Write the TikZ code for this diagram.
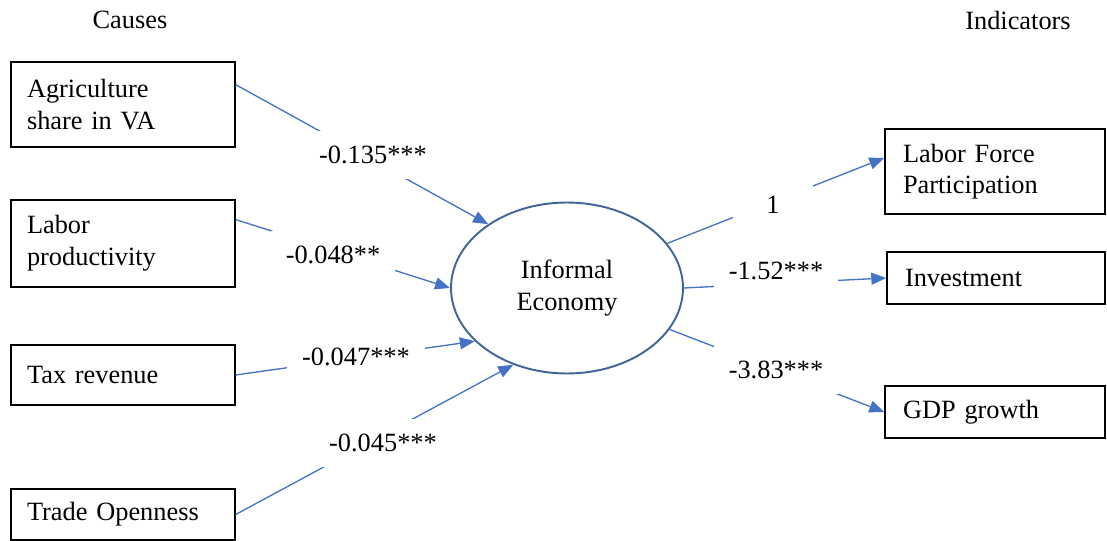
\documentclass[tikz,border=0pt]{standalone}
\usepackage{fontspec}
\setmainfont{Liberation Serif}
\usepackage{xcolor}
\usetikzlibrary{shapes.geometric, arrows.meta}
\definecolor{linkblue}{HTML}{4472C4}
\definecolor{ovalblue}{HTML}{41649B}
\tikzset{
  causebox/.style={rectangle, draw, line width=0.8pt, text width=3.84cm,
                   inner xsep=0.32cm, inner ysep=0pt, align=left},
  indbox/.style={rectangle, draw, line width=0.8pt, text width=3.68cm,
                 inner xsep=0.36cm, inner ysep=0pt, align=left},
  latent/.style={ellipse, draw=ovalblue, line width=1.1pt, minimum width=4.64cm,
                 minimum height=3.42cm, align=center, inner sep=0pt},
  coef/.style={fill=white, inner xsep=0.3cm, inner ysep=0.3cm},
  arrow/.style={-{Triangle[length=0.3cm, width=0.24cm]}, draw=linkblue,
                fill=linkblue, line width=0.75pt},
}
\begin{document}
\begin{tikzpicture}[x=0.02cm, y=-0.02cm, font=\fontsize{15}{18}\selectfont]
  \useasboundingbox (0,0) rectangle (1107,541);
  % headers
  \node (causes) at (130,20) {Causes};
  \node (indic) at (1018,20) {Indicators};
  % causes
  \node[causebox, minimum height=1.7cm] (agri) at (123,104.5) {Agriculture\\share in VA};
  \node[causebox, minimum height=1.74cm] (labor) at (123,243.5) {Labor\\productivity};
  \node[causebox, minimum height=1.2cm] (tax) at (123,375) {Tax revenue};
  \node[causebox, minimum height=1.02cm] (trade) at (123,514.5) {Trade Openness};
  % latent variable
  \node[latent] (econ) at (567,288) {Informal\\Economy};
  % indicators
  \node[indbox, minimum height=1.7cm] (lfp) at (995,171.5) {Labor Force\\Participation};
  \node[indbox, minimum height=1.04cm, text width=3.64cm] (inv) at (996,278) {Investment};
  \node[indbox, minimum height=1.04cm] (gdp) at (995,412) {GDP growth};
  % paths
  \draw[arrow] (agri.10) -- (econ.141);
  \draw[arrow] (labor.12) -- (econ.180);
  \draw[arrow] (tax.east) -- (econ.210);
  \draw[arrow] (trade.east) -- (econ.235);
  \draw[arrow] (econ.24) -- (lfp.173);
  \draw[arrow] (econ.0) -- (inv.west);
  \draw[arrow] (econ.338) -- (gdp.west);
  % coefficients
  \node[coef] (c1) at (373,155) {-0.135***};
  \node[coef] (c2) at (333,255) {-0.048**};
  \node[coef] (c3) at (356,357) {-0.047***};
  \node[coef] (c4) at (383,443) {-0.045***};
  \node[coef, minimum width=1.6cm] (c5) at (773,205) {1};
  \node[coef] (c6) at (776,271) {-1.52***};
  \node[coef] (c7) at (776,370) {-3.83***};
\end{tikzpicture}
\end{document}
